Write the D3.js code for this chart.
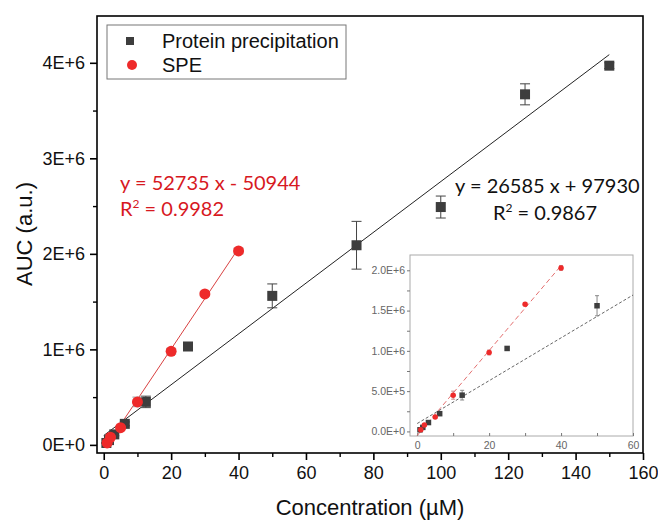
<!DOCTYPE html>
<html>
<head>
<meta charset="utf-8">
<script src="https://cdn.jsdelivr.net/npm/d3@7"></script>
<style>
  body { margin: 0; background: #fff; }
  svg { display: block; font-family: "Liberation Sans", Arial, sans-serif; }
</style>
</head>
<body>
<svg id="chart" width="658" height="522"></svg>
<script>
// ---- data
const ppConc = [0.78, 1.56, 3.13, 6.25, 12.5, 25, 50, 75, 100, 125, 150]
const ppAuc = [0.02e6, 0.05e6, 0.11e6, 0.22e6, 0.45e6, 1.03e6, 1.56e6, 2.09e6, 2.49e6, 3.67e6, 3.97e6]
const ppErr = [0.005e6, 0.01e6, 0.015e6, 0.02e6, 0.06e6, 0.02e6, 0.125e6, 0.25e6, 0.115e6, 0.11e6, 0.03e6]

const speConc = [1, 2, 5, 10, 20, 30, 40]
const speAuc = [0.02e6, 0.08e6, 0.18e6, 0.45e6, 0.98e6, 1.58e6, 2.03e6]
const speErr = [0.005e6, 0.01e6, 0.01e6, 0.05e6, 0.03e6, 0.02e6, 0.03e6]

const ppFit = { slope: 26585, icpt: 97930, from: 0, to: 150, insetTo: 60 }
const speFit = { slope: 52735, icpt: -50944, from: 1, to: 40, insetTo: 40 }

const xTicks = [0, 20, 40, 60, 80, 100, 120, 140, 160]
const yTicks = [0, 1e6, 2e6, 3e6, 4e6]
const yTickLabels = ['0E+0', '1E+6', '2E+6', '3E+6', '4E+6']
const insetXTicks = [0, 20, 40, 60]
const insetYTicks = [0, 0.5e6, 1e6, 1.5e6, 2e6]
const insetYTickLabels = ['0.0E+0', '5.0E+5', '1.0E+6', '1.5E+6', '2.0E+6']

const black = '#3d3d3d'
const red = '#ee2a2a'
const eqRed = '#d7191f'

const pp = ppConc.map((x, i) => ({ x, y: ppAuc[i], e: ppErr[i] }))
const spe = speConc.map((x, i) => ({ x, y: speAuc[i], e: speErr[i] }))

const svg = d3.select('#chart')
const margin = { top: 16, right: 15, bottom: 69, left: 97 }
const width = 658, height = 522

const xScale = d3.scaleLinear().domain([-2, 160]).range([margin.left, width - margin.right])
const yScale = d3.scaleLinear().domain([-0.085e6, 4.49e6]).range([height - margin.bottom, margin.top])

// frame
svg.append('rect')
    .attr('x', margin.left).attr('y', margin.top)
    .attr('width', width - margin.right - margin.left)
    .attr('height', height - margin.bottom - margin.top)
    .attr('fill', 'none').attr('stroke', '#000').attr('stroke-width', 1.6)

// minor ticks
svg.append('g')
    .attr('transform', `translate(0, ${height - margin.bottom})`)
    .call(d3.axisBottom(xScale).tickValues(d3.range(10, 160, 20)).tickSize(4).tickFormat(''))
    .call(g => g.select('.domain').remove())
    .selectAll('line').attr('stroke-width', 1.4)
svg.append('g')
    .attr('transform', `translate(${margin.left}, 0)`)
    .call(d3.axisLeft(yScale).tickValues([0.5e6, 1.5e6, 2.5e6, 3.5e6]).tickSize(4).tickFormat(''))
    .call(g => g.select('.domain').remove())
    .selectAll('line').attr('stroke-width', 1.4)

// major axes
const xAxisG = svg.append('g')
    .attr('transform', `translate(0, ${height - margin.bottom})`)
    .call(d3.axisBottom(xScale).tickValues(xTicks).tickSize(7).tickPadding(6))
xAxisG.select('.domain').remove()
xAxisG.selectAll('line').attr('stroke-width', 1.6)
xAxisG.selectAll('text').attr('font-size', 18).attr('fill', '#111')
    .attr('font-family', '"Liberation Sans", Arial, sans-serif')

const yAxisG = svg.append('g')
    .attr('transform', `translate(${margin.left}, 0)`)
    .call(d3.axisLeft(yScale).tickValues(yTicks).tickSize(7).tickPadding(5)
        .tickFormat((d, i) => yTickLabels[i]))
yAxisG.select('.domain').remove()
yAxisG.selectAll('line').attr('stroke-width', 1.6)
yAxisG.selectAll('text').attr('font-size', 18).attr('fill', '#111')
    .attr('font-family', '"Liberation Sans", Arial, sans-serif')

// axis titles
svg.append('text')
    .attr('x', 370).attr('y', 515)
    .attr('text-anchor', 'middle').attr('font-size', 22).attr('fill', '#111')
    .text('Concentration (µM)')
svg.append('text')
    .attr('transform', 'translate(32, 234) rotate(-90)')
    .attr('text-anchor', 'middle').attr('font-size', 22).attr('fill', '#111')
    .text('AUC (a.u.)')

// fit lines
const fitLine = (g, xs, ys, fit, to, color, w, dash) => {
    g.append('line')
        .attr('x1', xs(fit.from)).attr('y1', ys(fit.slope * fit.from + fit.icpt))
        .attr('x2', xs(to)).attr('y2', ys(fit.slope * to + fit.icpt))
        .attr('stroke', color).attr('stroke-width', w)
        .attr('stroke-dasharray', dash)
}
fitLine(svg, xScale, yScale, ppFit, ppFit.to, '#222', 1, null)
fitLine(svg, xScale, yScale, speFit, speFit.to, '#d84040', 1, null)

// error bars + markers
const drawSeries = (g, data, xs, ys, cap, color, barColor, shape, size) => {
    const eb = g.append('g')
    data.forEach(d => {
        const x = xs(d.x)
        eb.append('line').attr('x1', x).attr('x2', x)
            .attr('y1', ys(d.y - d.e)).attr('y2', ys(d.y + d.e))
            .attr('stroke', barColor).attr('stroke-width', 1)
        ;[d.y - d.e, d.y + d.e].forEach(v => {
            eb.append('line').attr('x1', x - cap).attr('x2', x + cap)
                .attr('y1', ys(v)).attr('y2', ys(v))
                .attr('stroke', barColor).attr('stroke-width', 1)
        })
    })
    if (shape === 'square') {
        g.append('g').selectAll('rect').data(data).join('rect')
            .attr('x', d => xs(d.x) - size / 2).attr('y', d => ys(d.y) - size / 2)
            .attr('width', size).attr('height', size)
            .attr('fill', color)
    } else {
        g.append('g').selectAll('circle').data(data).join('circle')
            .attr('cx', d => xs(d.x)).attr('cy', d => ys(d.y)).attr('r', size / 2)
            .attr('fill', color)
    }
}
drawSeries(svg, pp, xScale, yScale, 5, black, '#444', 'square', 10)
drawSeries(svg, spe, xScale, yScale, 5, red, '#999', 'circle', 11)

// legend
const legend = svg.append('g')
legend.append('rect')
    .attr('x', 107).attr('y', 25).attr('width', 239).attr('height', 54)
    .attr('fill', '#fff').attr('stroke', '#777').attr('stroke-width', 1)
legend.append('rect').attr('x', 126).attr('y', 37).attr('width', 8).attr('height', 8).attr('fill', black)
legend.append('circle').attr('cx', 132).attr('cy', 65).attr('r', 5).attr('fill', red)
legend.append('text').attr('x', 162).attr('y', 48).attr('font-size', 20).attr('fill', '#111')
    .text('Protein precipitation')
legend.append('text').attr('x', 162).attr('y', 72).attr('font-size', 20).attr('fill', '#111')
    .text('SPE')

// equations
const eqFont = 'Lato, "Open Sans", sans-serif'
const redEq = svg.append('text').attr('font-family', eqFont).attr('font-size', 20).attr('fill', eqRed)
redEq.append('tspan').attr('x', 120).attr('y', 190).text('y = 52735 x - 50944')
const redR = svg.append('text').attr('font-family', eqFont).attr('font-size', 20).attr('fill', eqRed)
    .attr('x', 120).attr('y', 216)
redR.append('tspan').text('R')
redR.append('tspan').attr('font-size', 12).attr('dy', -8).text('2')
redR.append('tspan').attr('dy', 8).text(' = 0.9982')

svg.append('text').attr('font-family', eqFont).attr('font-size', 20).attr('fill', '#111')
    .attr('x', 455).attr('y', 193).text('y = 26585 x + 97930')
const blkR = svg.append('text').attr('font-family', eqFont).attr('font-size', 20).attr('fill', '#111')
    .attr('x', 493).attr('y', 220)
blkR.append('tspan').text('R')
blkR.append('tspan').attr('font-size', 12).attr('dy', -8).text('2')
blkR.append('tspan').attr('dy', 8).text(' = 0.9867')

// ---- inset
const inset = { left: 410, right: 633, top: 255, bottom: 436 }
const ix = d3.scaleLinear().domain([-2, 60]).range([inset.left, inset.right])
const iy = d3.scaleLinear().domain([-0.057e6, 2.19e6]).range([inset.bottom, inset.top])

const ig = svg.append('g')
ig.append('rect')
    .attr('x', inset.left).attr('y', inset.top)
    .attr('width', inset.right - inset.left).attr('height', inset.bottom - inset.top)
    .attr('fill', '#fff').attr('stroke', '#aaa').attr('stroke-width', 1)

const ixAxis = ig.append('g')
    .attr('transform', `translate(0, ${inset.bottom})`)
    .call(d3.axisBottom(ix).tickValues(d3.range(0, 61, 10)).tickSize(-3).tickPadding(6)
        .tickFormat(d => insetXTicks.includes(d) ? d : ''))
ixAxis.select('.domain').remove()
ixAxis.selectAll('line').attr('stroke', '#777')
ixAxis.selectAll('text').attr('font-size', 10.5).attr('fill', '#666')

const iyAxis = ig.append('g')
    .attr('transform', `translate(${inset.left}, 0)`)
    .call(d3.axisLeft(iy).tickValues(d3.range(0, 2.01e6, 0.25e6)).tickSize(3).tickPadding(2)
        .tickFormat(d => {
            const i = insetYTicks.indexOf(d)
            return i >= 0 ? insetYTickLabels[i] : ''
        }))
iyAxis.select('.domain').remove()
iyAxis.selectAll('line').attr('stroke', '#777')
iyAxis.selectAll('text').attr('font-size', 10.5).attr('fill', '#666')

fitLine(ig, ix, iy, { ...ppFit, from: 0 }, ppFit.insetTo, '#555', 0.9, '3,2')
fitLine(ig, ix, iy, { ...speFit, from: 0 }, speFit.insetTo, '#e06060', 0.9, '5,3')

drawSeries(ig, pp.filter(d => d.x <= 60), ix, iy, 2, black, '#888', 'square', 5.5)
drawSeries(ig, spe, ix, iy, 2, red, '#c88', 'circle', 5.5)
</script>
</body>
</html>
